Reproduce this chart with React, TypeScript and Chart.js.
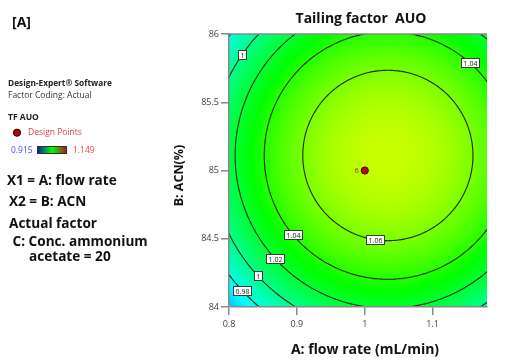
import React, { useEffect, useRef } from "react";
import { Chart, registerables } from "chart.js";
Chart.register(...registerables);

// ---- data ----
const xTicks = [0.8, 0.9, 1.0, 1.1];
const yTicks = [84, 84.5, 85, 85.5, 86];
const xRange = [0.8, 1.18];
const yRange = [84, 86];
const contourLevels = [0.98, 1.0, 1.02, 1.04, 1.06];
const responseRange = [0.915, 1.149];
// fitted quadratic response surface (TF AUO)
const modelPeak = [1.078];
const modelCenter = [1.034, 85.11];
const modelCurvature = [1.146, 0.0462];
// design points
const designX = [1.0];
const designY = [85];
const designRuns = [6];
// contour labels: level, x where label sits, branch (+1 upper / -1 lower)
const labelLevels = [1.0, 1.04, 1.06, 1.04, 1.02, 1.0, 0.98, 1.0];
const labelX = [0.8198, 1.1545, 1.015, 0.8936, 0.8675, 0.842, 0.8198, 1.186];
const labelBranch = [1, 1, -1, -1, -1, -1, -1, -1];

const FONT = '"Open Sans", "Noto Sans", sans-serif';

function surface(x: number, y: number) {
  return (
    modelPeak[0] -
    modelCurvature[0] * (x - modelCenter[0]) ** 2 -
    modelCurvature[1] * (y - modelCenter[1]) ** 2
  );
}

function colormap(v: number): [number, number, number] {
  let t = (v - responseRange[0]) / (responseRange[1] - responseRange[0]);
  t = Math.max(0, Math.min(1, t));
  const stops: [number, number, number][] = [
    [0, 0, 255],
    [0, 255, 255],
    [0, 255, 0],
    [255, 255, 0],
    [255, 0, 0],
  ];
  const s = t * 4;
  const i = Math.min(3, Math.floor(s));
  const f = s - i;
  const a = stops[i];
  const b = stops[i + 1];
  return [a[0] + (b[0] - a[0]) * f, a[1] + (b[1] - a[1]) * f, a[2] + (b[2] - a[2]) * f];
}

function fmt(v: number) {
  return String(Math.round(v * 1000) / 1000);
}

function text(
  ctx: CanvasRenderingContext2D,
  s: string,
  x: number,
  y: number,
  size: number,
  weight: string,
  color: string,
  align: CanvasTextAlign = "left"
) {
  ctx.save();
  ctx.font = `${weight} ${size}px ${FONT}`;
  ctx.fillStyle = color;
  ctx.textAlign = align;
  ctx.textBaseline = "middle";
  ctx.fillText(s, x, y);
  ctx.restore();
}

const surfacePlugin = {
  id: "surface",
  beforeDraw(chart: any) {
    const { ctx, chartArea } = chart;
    const xs = chart.scales.x;
    const ys = chart.scales.y;
    const left = Math.round(chartArea.left);
    const top = Math.round(chartArea.top);
    const w = Math.round(chartArea.right) - left;
    const h = Math.round(chartArea.bottom) - top;
    const off = document.createElement("canvas");
    off.width = w;
    off.height = h;
    const octx = off.getContext("2d")!;
    const img = octx.createImageData(w, h);
    for (let py = 0; py < h; py++) {
      const yv = ys.getValueForPixel(top + py + 0.5);
      for (let px = 0; px < w; px++) {
        const xv = xs.getValueForPixel(left + px + 0.5);
        const c = colormap(surface(xv, yv));
        const k = (py * w + px) * 4;
        img.data[k] = c[0];
        img.data[k + 1] = c[1];
        img.data[k + 2] = c[2];
        img.data[k + 3] = 255;
      }
    }
    octx.putImageData(img, 0, 0);
    ctx.drawImage(off, left, top);

    // contour lines
    ctx.save();
    ctx.beginPath();
    ctx.rect(chartArea.left, chartArea.top, chartArea.right - chartArea.left, chartArea.bottom - chartArea.top);
    ctx.clip();
    ctx.strokeStyle = "#1e2a10";
    ctx.lineWidth = 1.1;
    for (const L of contourLevels) {
      const d = modelPeak[0] - L;
      const rx = Math.sqrt(d / modelCurvature[0]);
      const ry = Math.sqrt(d / modelCurvature[1]);
      ctx.beginPath();
      for (let i = 0; i <= 360; i++) {
        const th = (i / 360) * Math.PI * 2;
        const px = xs.getPixelForValue(modelCenter[0] + rx * Math.cos(th));
        const py = ys.getPixelForValue(modelCenter[1] + ry * Math.sin(th));
        if (i === 0) ctx.moveTo(px, py);
        else ctx.lineTo(px, py);
      }
      ctx.stroke();
    }
    ctx.restore();
  },
  afterDraw(chart: any) {
    const { ctx, chartArea } = chart;
    const xs = chart.scales.x;
    const ys = chart.scales.y;

    // top border of plot
    ctx.save();
    ctx.strokeStyle = "#8a8a8a";
    ctx.lineWidth = 1.5;
    ctx.beginPath();
    ctx.moveTo(chartArea.left, chartArea.top);
    ctx.lineTo(chartArea.right, chartArea.top);
    ctx.stroke();
    ctx.restore();

    // contour labels
    ctx.save();
    ctx.beginPath();
    ctx.rect(chartArea.left, chartArea.top - 1, chartArea.right - chartArea.left, chartArea.bottom - chartArea.top + 2);
    ctx.clip();
    ctx.font = `7px ${FONT}`;
    for (let i = 0; i < labelLevels.length; i++) {
      const L = labelLevels[i];
      const x = labelX[i];
      const rem = modelPeak[0] - L - modelCurvature[0] * (x - modelCenter[0]) ** 2;
      const dy = Math.sqrt(Math.max(0, rem / modelCurvature[1]));
      const y = modelCenter[1] + labelBranch[i] * dy;
      const px = xs.getPixelForValue(x);
      const py = ys.getPixelForValue(y);
      const s = fmt(L);
      const tw = ctx.measureText(s).width;
      const bw = Math.round(tw + 4);
      const bh = 9;
      const bx = Math.round(px - bw / 2) + 0.5;
      const by = Math.round(py - bh / 2) + 0.5;
      ctx.fillStyle = "#ffffff";
      ctx.fillRect(bx, by, bw, bh);
      ctx.strokeStyle = "#3a3a3a";
      ctx.lineWidth = 1;
      ctx.strokeRect(bx, by, bw, bh);
      ctx.fillStyle = "#222";
      ctx.textAlign = "center";
      ctx.textBaseline = "middle";
      ctx.fillText(s, bx + bw / 2, by + bh / 2 + 0.5);
    }
    ctx.restore();

    // design point run counts
    for (let i = 0; i < designX.length; i++) {
      const px = xs.getPixelForValue(designX[i]);
      const py = ys.getPixelForValue(designY[i]);
      text(ctx, String(designRuns[i]), px - 8, py, 7, "normal", "#4a5a20", "center");
    }

    // title and axis titles
    text(ctx, "Tailing factor  AUO", 361, 19, 14, "bold", "#111", "center");
    text(ctx, "A: flow rate (mL/min)", 365, 350, 14, "bold", "#111", "center");
    ctx.save();
    ctx.translate(179, 175.5);
    ctx.rotate(-Math.PI / 2);
    text(ctx, "B: ACN(%)", 0, 0, 12.5, "bold", "#111", "center");
    ctx.restore();

    // left information panel
    text(ctx, "[A]", 12, 23, 14, "bold", "#111");
    text(ctx, "Design-Expert® Software", 8, 84, 8.3, "bold", "#222");
    text(ctx, "Factor Coding: Actual", 8, 95.5, 8.5, "normal", "#333");
    text(ctx, "TF AUO", 8, 118, 8.5, "bold", "#222");
    ctx.save();
    ctx.beginPath();
    ctx.arc(17, 132.7, 3.6, 0, Math.PI * 2);
    ctx.fillStyle = "#c00000";
    ctx.fill();
    ctx.strokeStyle = "#200000";
    ctx.lineWidth = 1;
    ctx.stroke();
    ctx.restore();
    text(ctx, "Design Points", 28, 133, 8.5, "normal", "#e0403c");
    text(ctx, fmt(responseRange[0]), 11, 151, 8.5, "normal", "#4d4dff");
    ctx.save();
    const g = ctx.createLinearGradient(37, 0, 67, 0);
    g.addColorStop(0, "#1010b0");
    g.addColorStop(0.5, "#00ff00");
    g.addColorStop(1, "#b01010");
    ctx.fillStyle = g;
    ctx.fillRect(37, 146, 30, 8);
    ctx.strokeStyle = "#303030";
    ctx.lineWidth = 1;
    ctx.strokeRect(37.5, 146.5, 29, 7);
    ctx.restore();
    text(ctx, fmt(responseRange[1]), 73, 151, 8.5, "normal", "#ff4040");

    text(ctx, "X1 = A: flow rate", 7, 181.5, 13.6, "bold", "#111");
    text(ctx, "X2 = B: ACN", 9, 202, 13.6, "bold", "#111");
    text(ctx, "Actual factor", 9, 224, 13.6, "bold", "#111");
    text(ctx, "C: Conc. ammonium", 12.5, 242, 13.6, "bold", "#111");
    text(ctx, "acetate = 20", 29, 257, 13.6, "bold", "#111");
  },
};

export default function App() {
  const ref = useRef<HTMLCanvasElement>(null);
  useEffect(() => {
    document.body.style.margin = "0";
    const canvas = ref.current!;
    const tickFont = { family: FONT, size: 9 };
    const chart = new Chart(canvas, {
      type: "scatter",
      data: {
        datasets: [
          {
            data: designX.map((x, i) => ({ x, y: designY[i] })),
            pointRadius: 3.6,
            pointBackgroundColor: "#cc0000",
            pointBorderColor: "#300000",
            pointBorderWidth: 1,
          },
        ],
      },
      options: {
        animation: false,
        responsive: false,
        devicePixelRatio: 1,
        layout: { padding: { top: 34, right: 20, left: 0, bottom: 0 } },
        plugins: {
          legend: { display: false },
          tooltip: { enabled: false },
          title: { display: false },
        },
        scales: {
          x: {
            type: "linear",
            min: xRange[0],
            max: xRange[1],
            afterBuildTicks: (s: any) => {
              s.ticks = xTicks.map((v) => ({ value: v }));
            },
            afterFit: (s: any) => {
              s.height = 57;
            },
            ticks: {
              font: tickFont,
              color: "#404040",
              padding: 4,
              maxRotation: 0,
              callback: (v: any) => fmt(Number(v)),
            },
            grid: {
              display: true,
              drawOnChartArea: false,
              drawTicks: true,
              tickLength: 8,
              color: "#8a8a8a",
              lineWidth: 1.5,
            },
            border: { display: true, color: "#8a8a8a", width: 1.5 },
          },
          y: {
            type: "linear",
            min: yRange[0],
            max: yRange[1],
            afterBuildTicks: (s: any) => {
              s.ticks = yTicks.map((v) => ({ value: v }));
            },
            afterFit: (s: any) => {
              s.width = 229;
            },
            ticks: {
              font: tickFont,
              color: "#404040",
              padding: 2,
              callback: (v: any) => fmt(Number(v)),
            },
            grid: {
              display: true,
              drawOnChartArea: false,
              drawTicks: true,
              tickLength: 8,
              color: "#8a8a8a",
              lineWidth: 1.5,
            },
            border: { display: true, color: "#8a8a8a", width: 1.5 },
          },
        },
      },
      plugins: [surfacePlugin],
    } as any);
    return () => chart.destroy();
  }, []);
  return (
    <div style={{ position: "fixed", left: 0, top: 0, width: 507, height: 364, background: "#fff" }}>
      <canvas ref={ref} width={507} height={364} style={{ display: "block", width: 507, height: 364 }} />
    </div>
  );
}
